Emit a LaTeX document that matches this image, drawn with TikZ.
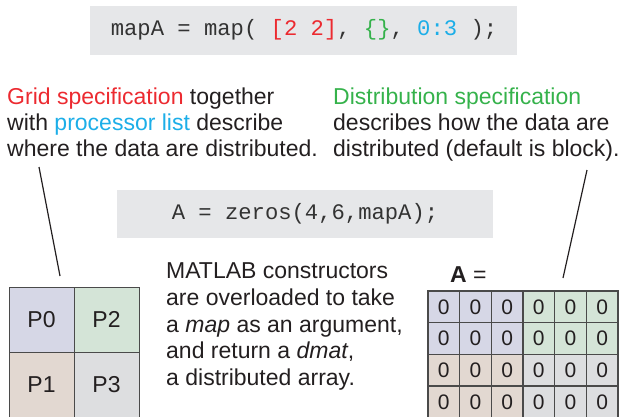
\documentclass[tikz,border=0pt]{standalone}
\usepackage{fontspec}
\setmainfont{Liberation Sans}
\newfontfamily\codefont{Liberation Mono}
\definecolor{ink}{HTML}{231F20}
\definecolor{codeink}{HTML}{333333}
\definecolor{specred}{HTML}{EC2A30}
\definecolor{specgreen}{HTML}{35B24B}
\definecolor{speccyan}{HTML}{1CAEE8}
\definecolor{codebg}{HTML}{E6E7E9}
\definecolor{cellA}{HTML}{D6D7E6}
\definecolor{cellB}{HTML}{D4E4D7}
\definecolor{cellC}{HTML}{E2D8D1}
\definecolor{cellD}{HTML}{DDDEE0}
\definecolor{gridline}{HTML}{4A4A4A}
\tikzset{
  txt/.style={font=\fontsize{23}{26}\selectfont, text=ink, inner sep=0pt, anchor=base west},
  codeline/.style={font=\codefont\fontsize{22.2}{26}\selectfont\frenchspacing, text=codeink, inner sep=0pt, anchor=base},
  codebox/.style={fill=codebg, draw=none},
  proc/.style={draw=gridline, line width=1pt, minimum width=65pt, minimum height=65pt,
    inner sep=0pt, font=\fontsize{23}{26}\selectfont, text=ink},
  zero/.style={draw=gridline, line width=1.1pt, minimum width=31.67pt, minimum height=31.67pt,
    inner sep=0pt, font=\fontsize{21}{24}\selectfont, text=ink},
  pointer/.style={draw=ink, line width=1.2pt}
}
\begin{document}
\begin{tikzpicture}[x=1pt,y=-1pt]
\useasboundingbox (0,0) rectangle (622,416);

% map constructor call
\fill[codebox] (90,6) rectangle (517,55);
\node[codeline] (mapcall) at (304,35)
  {mapA = map( \textcolor{specred}{[2 2]}, \textcolor{specgreen}{\{\}}, \textcolor{speccyan}{0:3} );};

% left explanation
\node[txt] (gl1) at (7,104) {\textcolor{specred}{Grid specification} together};
\node[txt] (gl2) at (7,130) {with \textcolor{speccyan}{processor list} describe};
\node[txt] (gl3) at (7,156) {where the data are distributed.};

% right explanation
\node[txt] (dl1) at (333,104) {\textcolor{specgreen}{Distribution specification}};
\node[txt] (dl2) at (333,130) {describes how the data are};
\node[txt] (dl3) at (333,156) {distributed (default is block).};

% zeros call
\fill[codebox] (117,190) rectangle (493,238);
\node[codeline] (zeroscall) at (305,219) {A = zeros(4,6,mapA);};

% middle explanation
\node[txt] (ml1) at (166,278) {MATLAB constructors};
\node[txt] (ml2) at (166,305) {are overloaded to take};
\node[txt] (ml3) at (166,332) {a \textit{map} as an argument,};
\node[txt] (ml4) at (166,358) {and return a \textit{dmat},};
\node[txt] (ml5) at (166,385) {a distributed array.};

% processor grid
\node[proc, fill=cellA] (p0) at (41.5,319.5) {P0};
\node[proc, fill=cellB] (p2) at (106.5,319.5) {P2};
\node[proc, fill=cellC] (p1) at (41.5,384.5) {P1};
\node[proc, fill=cellD] (p3) at (106.5,384.5) {P3};

% distributed array
\node[txt] (alabel) at (450,282) {\textbf{A} =};
\foreach \r in {0,...,3}{
  \foreach \c in {0,...,5}{
    \pgfmathsetmacro{\cx}{428+31.667*(\c+0.5)}
    \pgfmathsetmacro{\cy}{291+31.667*(\r+0.5)}
    \ifnum\r<2
      \ifnum\c<3 \def\cf{cellA}\else\def\cf{cellB}\fi
    \else
      \ifnum\c<3 \def\cf{cellC}\else\def\cf{cellD}\fi
    \fi
    \node[zero, fill=\cf] (a-\r-\c) at (\cx,\cy) {0};
  }
}

% pointers from the explanations
\coordinate (gridfrom) at (39,167);
\coordinate (gridto) at (60,276);
\coordinate (distfrom) at (587,170);
\coordinate (distto) at (563,278);
\draw[pointer] (gridfrom) -- (gridto);
\draw[pointer] (distfrom) -- (distto);
\end{tikzpicture}
\end{document}
